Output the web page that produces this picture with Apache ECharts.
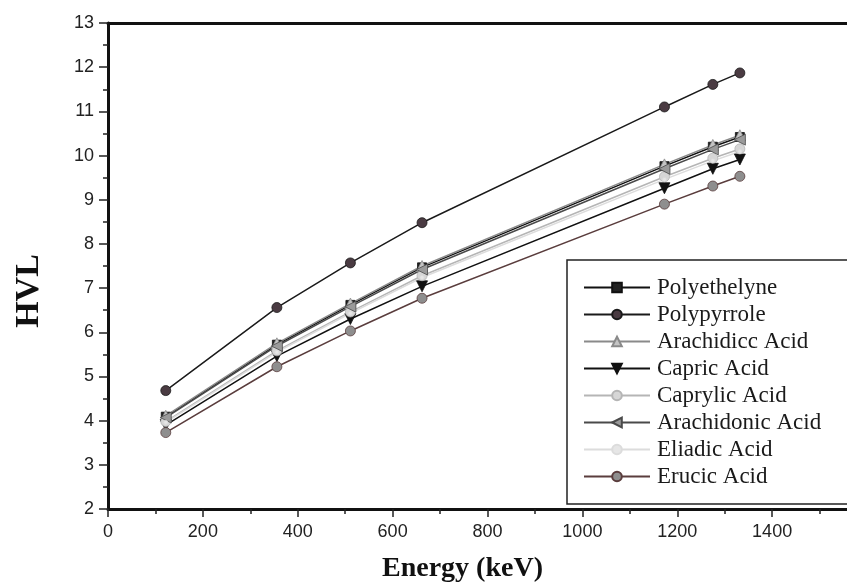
<!DOCTYPE html>
<html>
<head>
<meta charset="utf-8">
<script src="https://cdn.jsdelivr.net/npm/echarts@6/dist/echarts.min.js"></script>
<style>
  html, body { margin: 0; padding: 0; background: #fff; }
  #chart { width: 847px; height: 584px; }
</style>
</head>
<body>
<div id="chart"></div>
<script>
// gamma energies (keV)
const energies = [121.8, 356, 511, 662, 1173, 1275, 1332];

const polyethelyne = [4.09, 5.72, 6.62, 7.47, 9.76, 10.20, 10.42];
const polypyrrole = [4.68, 6.56, 7.57, 8.48, 11.10, 11.61, 11.87];
const arachidic = [4.11, 5.75, 6.65, 7.50, 9.80, 10.24, 10.46];
const capric = [3.90, 5.46, 6.30, 7.04, 9.26, 9.70, 9.91];
const caprylic = [3.98, 5.58, 6.46, 7.28, 9.52, 9.94, 10.15];
const arachidonic = [4.07, 5.69, 6.58, 7.42, 9.70, 10.14, 10.36];
const eliadic = [3.96, 5.55, 6.43, 7.24, 9.46, 9.88, 10.09];
const erucic = [3.73, 5.22, 6.03, 6.77, 8.90, 9.31, 9.53];

const xTicks = [0, 200, 400, 600, 800, 1000, 1200, 1400];

function pairs(vals) {
    return energies.map((e, i) => [e, vals[i]]);
}

function line(name, vals, lineColor, symbol, fill, size, rotate) {
    return {
        name: name,
        type: 'line',
        data: pairs(vals),
        symbol: symbol,
        symbolSize: size,
        symbolRotate: rotate || 0,
        showSymbol: true,
        lineStyle: {color: lineColor, width: 1.5},
        itemStyle: {color: fill, borderColor: lineColor, borderWidth: 0.8},
        emphasis: {disabled: true},
        animation: false
    };
}

const chart = echarts.init(document.getElementById('chart'));

const option = {
    backgroundColor: '#fff',
    grid: {left: 108, right: -20, top: 23, bottom: 75, outerBoundsMode: 'none', containLabel: false},
    legend: {
        orient: 'vertical',
        left: 567,
        top: 260,
        padding: [16, 40, 16, 16],
        itemWidth: 66,
        itemHeight: 12,
        itemGap: 4,
        backgroundColor: '#fff',
        borderColor: '#222',
        borderWidth: 1.5,
        textStyle: {fontFamily: 'Liberation Serif', fontSize: 23, color: '#1a1a1a', padding: [0, 0, 0, 2]},
        selectedMode: false
    },
    xAxis: [{
        type: 'value',
        min: 0,
        max: 1600,
        interval: 200,
        name: 'Energy (keV)',
        nameLocation: 'middle',
        nameGap: 46,
        nameTextStyle: {fontFamily: 'Liberation Serif', fontWeight: 'bold', fontSize: 28, color: '#111', padding: [0, 50, 0, 0]},
        axisLine: {show: true, lineStyle: {color: '#111', width: 3}},
        axisTick: {show: true, inside: false, length: 8, lineStyle: {color: '#222', width: 1.5}},
        minorTick: {show: true, splitNumber: 2, length: 5, lineStyle: {color: '#222', width: 1.5}},
        axisLabel: {
            margin: 14,
            fontFamily: 'Liberation Sans',
            fontSize: 18,
            color: '#222',
            formatter: v => xTicks.includes(v) ? String(v) : ''
        },
        splitLine: {show: false}
    }, {
        type: 'value',
        position: 'top',
        min: 0,
        max: 1600,
        axisLine: {show: true, lineStyle: {color: '#111', width: 3}},
        axisTick: {show: false},
        axisLabel: {show: false},
        splitLine: {show: false}
    }],
    yAxis: [{
        type: 'value',
        min: 2,
        max: 13,
        interval: 1,
        name: 'HVL',
        nameLocation: 'middle',
        nameGap: 62,
        nameTextStyle: {fontFamily: 'Liberation Serif', fontWeight: 'bold', fontSize: 34, color: '#111', padding: [0, 50, 0, 0]},
        axisLine: {show: true, lineStyle: {color: '#111', width: 3}},
        axisTick: {show: true, inside: false, length: 9, lineStyle: {color: '#222', width: 1.5}},
        minorTick: {show: true, splitNumber: 2, length: 5, lineStyle: {color: '#222', width: 1.5}},
        axisLabel: {margin: 14, fontFamily: 'Liberation Sans', fontSize: 18, color: '#222'},
        splitLine: {show: false}
    }],
    series: [
        line('Polyethelyne', polyethelyne, '#111', 'rect', '#222', 9),
        line('Polypyrrole', polypyrrole, '#1a1a1a', 'circle', '#4a3b42', 10),
        line('Arachidicc Acid', arachidic, '#8a8a8a', 'triangle', '#c4c4c4', 11),
        line('Capric Acid', capric, '#111', 'triangle', '#111', 11, 180),
        line('Caprylic Acid', caprylic, '#b5b5b5', 'circle', '#d6d6d6', 10),
        line('Arachidonic Acid', arachidonic, '#4a4a4a', 'triangle', '#9a9a9a', 11, 90),
        line('Eliadic Acid', eliadic, '#dcdcdc', 'circle', '#e6e6e6', 4),
        line('Erucic Acid', erucic, '#5a3d3d', 'circle', '#8e8e8e', 10)
    ]
};

chart.setOption(option);
</script>
</body>
</html>
